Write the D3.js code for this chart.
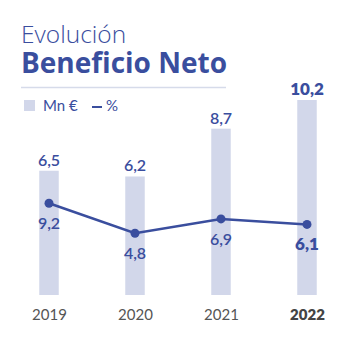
<!DOCTYPE html>
<html>
<head>
<meta charset="utf-8">
<script src="https://cdn.jsdelivr.net/npm/d3@7"></script>
<style>
  html, body { margin: 0; padding: 0; background: #fff; }
  svg { display: block; font-family: Lato, "Open Sans", sans-serif; }
</style>
</head>
<body>
<svg width="354" height="338"></svg>
<script>
var years = ["2019", "2020", "2021", "2022"];
var beneficio = [6.5, 6.2, 8.7, 10.2];   // Mn €
var margen = [9.2, 4.8, 6.9, 6.1];       // %
var fmt = function (v) { return v.toFixed(1).replace(".", ","); };

var blue = "#3a4e9e",
    barColor = "#d2d7ea";

var svg = d3.select("svg");

// title
svg.append("text")
    .attr("x", 21).attr("y", 43)
    .attr("fill", blue)
    .style("font-family", "'Open Sans', sans-serif")
    .style("font-size", "24.5px").style("font-weight", 300)
    .text("Evolución");
svg.append("text")
    .attr("x", 21).attr("y", 73)
    .attr("fill", blue)
    .style("font-family", "'Open Sans', sans-serif")
    .style("font-size", "28px").style("font-weight", 700)
    .text("Beneficio Neto");
svg.append("line")
    .attr("x1", 21).attr("x2", 226)
    .attr("y1", 87.5).attr("y2", 87.5)
    .attr("stroke", "#d6dbea").attr("stroke-width", 1.5);

// legend
var legend = svg.append("g");
legend.append("rect")
    .attr("x", 24).attr("y", 100).attr("width", 11).attr("height", 11)
    .attr("fill", barColor);
legend.append("text")
    .attr("x", 43).attr("y", 111)
    .attr("fill", blue).style("font-size", "15px")
    .text("Mn €");
legend.append("line")
    .attr("x1", 92).attr("x2", 102).attr("y1", 107).attr("y2", 107)
    .attr("stroke", blue).attr("stroke-width", 2);
legend.append("text")
    .attr("x", 106).attr("y", 111)
    .attr("fill", blue).style("font-size", "15px")
    .text("%");

// scales
var x = d3.scalePoint().domain(years).range([49, 307]);
var yBar = d3.scaleLinear().domain([0, 10.2]).range([295, 100]);
var yLine = d3.scaleLinear().domain([0, 10]).range([266, 197.8]);
var barW = 19.5;

var data = years.map(function (y, i) {
    return {year: y, value: beneficio[i], pct: margen[i], last: i === years.length - 1};
});

// bars
svg.append("g").selectAll("rect")
    .data(data)
    .enter().append("rect")
    .attr("x", function (d) { return x(d.year) - barW / 2; })
    .attr("y", function (d) { return yBar(d.value); })
    .attr("width", barW)
    .attr("height", function (d) { return yBar(0) - yBar(d.value); })
    .attr("fill", barColor);

svg.append("g").selectAll("text")
    .data(data)
    .enter().append("text")
    .attr("x", function (d) { return x(d.year); })
    .attr("y", function (d) { return yBar(d.value) - 5; })
    .attr("text-anchor", "middle")
    .attr("fill", blue)
    .style("font-size", function (d) { return d.last ? "17px" : "16px"; })
    .style("font-weight", function (d) { return d.last ? 800 : 600; })
    .text(function (d) { return fmt(d.value); });

// line
var line = d3.line()
    .x(function (d) { return x(d.year); })
    .y(function (d) { return yLine(d.pct); });

svg.append("path")
    .datum(data)
    .attr("d", line)
    .attr("fill", "none")
    .attr("stroke", blue)
    .attr("stroke-width", 2.5);

svg.append("g").selectAll("circle")
    .data(data)
    .enter().append("circle")
    .attr("cx", function (d) { return x(d.year); })
    .attr("cy", function (d) { return yLine(d.pct); })
    .attr("r", 4.5)
    .attr("fill", blue);

svg.append("g").selectAll("text")
    .data(data)
    .enter().append("text")
    .attr("x", function (d) { return x(d.year); })
    .attr("y", function (d) { return yLine(d.pct) + 26; })
    .attr("text-anchor", "middle")
    .attr("fill", blue)
    .style("font-size", function (d) { return d.last ? "17px" : "16px"; })
    .style("font-weight", function (d) { return d.last ? 800 : 600; })
    .text(function (d) { return fmt(d.pct); });

// x axis labels
var axisX = svg.append("g")
    .attr("transform", "translate(0,320)")
    .call(d3.axisBottom(x).tickSize(0).tickPadding(0));
axisX.select(".domain").remove();
axisX.selectAll("text")
    .attr("dy", 0)
    .style("font-family", "Lato, 'Open Sans', sans-serif")
    .style("font-size", "15px")
    .style("font-weight", function (d) { return d === "2022" ? 800 : 400; })
    .style("fill", function (d) { return d === "2022" ? "#444" : "#555"; });
</script>
</body>
</html>
